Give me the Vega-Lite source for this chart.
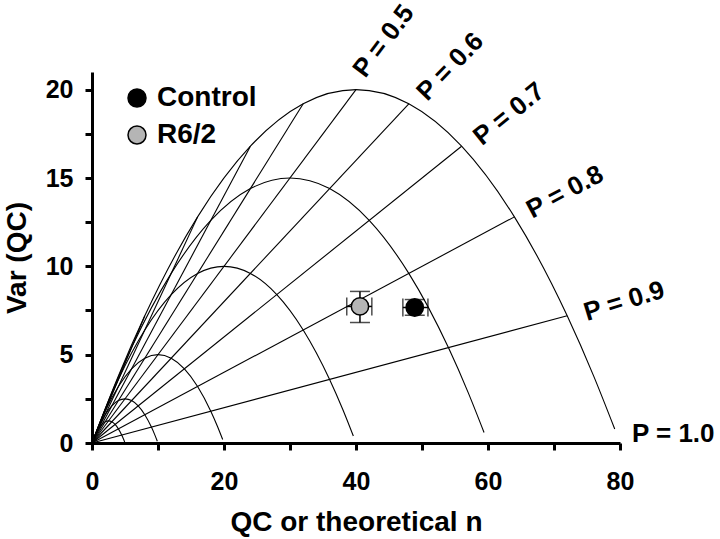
{
  "$schema": "https://vega.github.io/schema/vega-lite/v6.json",
  "autosize": {"type": "none"},
  "width": 528,
  "height": 371,
  "padding": {"left": 92, "top": 72, "right": 100, "bottom": 96},
  "background": "white",
  "config": {
    "view": {"stroke": null},
    "font": "Liberation Sans",
    "axis": {
      "grid": false,
      "domainColor": "black",
      "domainWidth": 3,
      "tickColor": "black",
      "tickWidth": 3,
      "tickSize": 7,
      "labelFont": "Liberation Sans",
      "labelFontWeight": "bold",
      "labelFontSize": 25,
      "labelColor": "black",
      "titleFont": "Liberation Sans",
      "titleFontWeight": "bold",
      "titleFontSize": 28,
      "titleColor": "black"
    }
  },
  "datasets": {
    "curves": [
      {"n":80,"P":0,"qc":0,"var":0},{"n":80,"P":0.05,"qc":4,"var":3.8},{"n":80,"P":0.1,"qc":8,"var":7.2},{"n":80,"P":0.2,"qc":16,"var":12.8},{"n":80,"P":0.3,"qc":24,"var":16.8},{"n":80,"P":0.4,"qc":32,"var":19.2},{"n":80,"P":0.5,"qc":40,"var":20},{"n":80,"P":0.6,"qc":48,"var":19.2},{"n":80,"P":0.7,"qc":56,"var":16.8},{"n":80,"P":0.8,"qc":64,"var":12.8},{"n":80,"P":0.9,"qc":72,"var":7.2},{"n":80,"P":0.95,"qc":76,"var":3.8},{"n":80,"P":0.99,"qc":79.2,"var":0.792},
      {"n":60,"P":0,"qc":0,"var":0},{"n":60,"P":0.05,"qc":3,"var":2.85},{"n":60,"P":0.1,"qc":6,"var":5.4},{"n":60,"P":0.2,"qc":12,"var":9.6},{"n":60,"P":0.3,"qc":18,"var":12.6},{"n":60,"P":0.4,"qc":24,"var":14.4},{"n":60,"P":0.5,"qc":30,"var":15},{"n":60,"P":0.6,"qc":36,"var":14.4},{"n":60,"P":0.7,"qc":42,"var":12.6},{"n":60,"P":0.8,"qc":48,"var":9.6},{"n":60,"P":0.9,"qc":54,"var":5.4},{"n":60,"P":0.95,"qc":57,"var":2.85},{"n":60,"P":0.99,"qc":59.4,"var":0.594},
      {"n":40,"P":0,"qc":0,"var":0},{"n":40,"P":0.05,"qc":2,"var":1.9},{"n":40,"P":0.1,"qc":4,"var":3.6},{"n":40,"P":0.2,"qc":8,"var":6.4},{"n":40,"P":0.3,"qc":12,"var":8.4},{"n":40,"P":0.4,"qc":16,"var":9.6},{"n":40,"P":0.5,"qc":20,"var":10},{"n":40,"P":0.6,"qc":24,"var":9.6},{"n":40,"P":0.7,"qc":28,"var":8.4},{"n":40,"P":0.8,"qc":32,"var":6.4},{"n":40,"P":0.9,"qc":36,"var":3.6},{"n":40,"P":0.95,"qc":38,"var":1.9},{"n":40,"P":0.99,"qc":39.6,"var":0.396},
      {"n":20,"P":0,"qc":0,"var":0},{"n":20,"P":0.05,"qc":1,"var":0.95},{"n":20,"P":0.1,"qc":2,"var":1.8},{"n":20,"P":0.2,"qc":4,"var":3.2},{"n":20,"P":0.3,"qc":6,"var":4.2},{"n":20,"P":0.4,"qc":8,"var":4.8},{"n":20,"P":0.5,"qc":10,"var":5},{"n":20,"P":0.6,"qc":12,"var":4.8},{"n":20,"P":0.7,"qc":14,"var":4.2},{"n":20,"P":0.8,"qc":16,"var":3.2},{"n":20,"P":0.9,"qc":18,"var":1.8},{"n":20,"P":0.95,"qc":19,"var":0.95},{"n":20,"P":0.99,"qc":19.8,"var":0.198},
      {"n":10,"P":0,"qc":0,"var":0},{"n":10,"P":0.05,"qc":0.5,"var":0.475},{"n":10,"P":0.1,"qc":1,"var":0.9},{"n":10,"P":0.2,"qc":2,"var":1.6},{"n":10,"P":0.3,"qc":3,"var":2.1},{"n":10,"P":0.4,"qc":4,"var":2.4},{"n":10,"P":0.5,"qc":5,"var":2.5},{"n":10,"P":0.6,"qc":6,"var":2.4},{"n":10,"P":0.7,"qc":7,"var":2.1},{"n":10,"P":0.8,"qc":8,"var":1.6},{"n":10,"P":0.9,"qc":9,"var":0.9},{"n":10,"P":0.95,"qc":9.5,"var":0.475},{"n":10,"P":0.99,"qc":9.9,"var":0.099},
      {"n":5,"P":0,"qc":0,"var":0},{"n":5,"P":0.05,"qc":0.25,"var":0.2375},{"n":5,"P":0.1,"qc":0.5,"var":0.45},{"n":5,"P":0.2,"qc":1,"var":0.8},{"n":5,"P":0.3,"qc":1.5,"var":1.05},{"n":5,"P":0.4,"qc":2,"var":1.2},{"n":5,"P":0.5,"qc":2.5,"var":1.25},{"n":5,"P":0.6,"qc":3,"var":1.2},{"n":5,"P":0.7,"qc":3.5,"var":1.05},{"n":5,"P":0.8,"qc":4,"var":0.8},{"n":5,"P":0.9,"qc":4.5,"var":0.45},{"n":5,"P":0.95,"qc":4.75,"var":0.2375},{"n":5,"P":0.99,"qc":4.95,"var":0.0495}
    ],
    "radials": [
      {"P":0.1,"qc0":0,"v0":0,"qc1":8,"v1":7.2},
      {"P":0.2,"qc0":0,"v0":0,"qc1":16,"v1":12.8},
      {"P":0.3,"qc0":0,"v0":0,"qc1":24,"v1":16.8},
      {"P":0.4,"qc0":0,"v0":0,"qc1":32,"v1":19.2},
      {"P":0.5,"qc0":0,"v0":0,"qc1":40,"v1":20},
      {"P":0.6,"qc0":0,"v0":0,"qc1":48,"v1":19.2},
      {"P":0.7,"qc0":0,"v0":0,"qc1":56,"v1":16.8},
      {"P":0.8,"qc0":0,"v0":0,"qc1":64,"v1":12.8},
      {"P":0.9,"qc0":0,"v0":0,"qc1":72,"v1":7.2}
    ],
    "labels": [
      {"P":0.5,"qc":41.4,"var":20.6,"label":"P = 0.5"},
      {"P":0.6,"qc":50.8,"var":19.3,"label":"P = 0.6"},
      {"P":0.7,"qc":59.1,"var":16.8,"label":"P = 0.7"},
      {"P":0.8,"qc":66.7,"var":12.7,"label":"P = 0.8"},
      {"P":0.9,"qc":75.0,"var":6.9,"label":"P = 0.9"},
      {"P":1.0,"qc":81.8,"var":0.06,"label":"P = 1.0"}
    ],
    "points": [
      {"group":"Control","qc":48.9,"var":7.67,"qc_lo":47.1,"qc_hi":50.9,"var_lo":7.23,"var_hi":8.12},
      {"group":"R6/2","qc":40.6,"var":7.73,"qc_lo":38.6,"qc_hi":42.4,"var_lo":6.82,"var_hi":8.58}
    ]
  },
  "layer": [
    {
      "data": {"name": "curves"},
      "mark": {"type": "line", "color": "black", "strokeWidth": 1.1, "interpolate": "monotone"},
      "encoding": {
        "x": {"field": "qc", "type": "quantitative", "scale": {"domain": [0, 80], "nice": false, "zero": false},
              "axis": {"values": [0,10,20,30,40,50,60,70,80], "labelExpr": "datum.value % 20 === 0 ? datum.label : ''", "labelPadding": 19, "titlePadding": 14, "title": "QC or theoretical n", "labelFlush": false}},
        "y": {"field": "var", "type": "quantitative", "scale": {"domain": [0, 21], "nice": false, "zero": false},
              "axis": {"values": [0,2.5,5,7.5,10,12.5,15,17.5,20], "labelExpr": "datum.value % 5 === 0 ? datum.label : ''", "labelPadding": 12, "titlePadding": 14, "title": "Var (QC)", "labelFlush": false}},
        "detail": {"field": "n", "type": "nominal"},
        "order": {"field": "P", "type": "quantitative"}
      }
    },
    {
      "data": {"name": "radials"},
      "mark": {"type": "rule", "color": "black", "strokeWidth": 1.1},
      "encoding": {
        "x": {"field": "qc0", "type": "quantitative"},
        "y": {"field": "v0", "type": "quantitative"},
        "x2": {"field": "qc1"},
        "y2": {"field": "v1"}
      }
    },
    {
      "data": {"name": "labels"},
      "mark": {"type": "text", "align": "left", "baseline": "alphabetic", "fontSize": 26, "fontWeight": "bold", "font": "Liberation Sans", "color": "black"},
      "encoding": {
        "x": {"field": "qc", "type": "quantitative"},
        "y": {"field": "var", "type": "quantitative"},
        "text": {"field": "label"},
        "angle": {"field": "P", "type": "quantitative", "scale": {"domain": [0.5,0.6,0.7,0.8,0.9,1.0], "range": [307,314,321,332,343,360]}, "legend": null}
      }
    },
    {
      "data": {"name": "points"},
      "mark": {"type": "rule", "color": "black", "strokeWidth": 1.5},
      "encoding": {
        "x": {"field": "qc_lo", "type": "quantitative"},
        "x2": {"field": "qc_hi"},
        "y": {"field": "var", "type": "quantitative"}
      }
    },
    {
      "data": {"name": "points"},
      "mark": {"type": "rule", "color": "black", "strokeWidth": 1.5},
      "encoding": {
        "x": {"field": "qc", "type": "quantitative"},
        "y": {"field": "var_lo", "type": "quantitative"},
        "y2": {"field": "var_hi"}
      }
    },
    {
      "data": {"name": "points"},
      "mark": {"type": "tick", "orient": "vertical", "color": "black", "size": 18, "thickness": 1.5},
      "encoding": {
        "x": {"field": "qc_lo", "type": "quantitative"},
        "y": {"field": "var", "type": "quantitative"}
      }
    },
    {
      "data": {"name": "points"},
      "mark": {"type": "tick", "orient": "vertical", "color": "black", "size": 18, "thickness": 1.5},
      "encoding": {
        "x": {"field": "qc_hi", "type": "quantitative"},
        "y": {"field": "var", "type": "quantitative"}
      }
    },
    {
      "data": {"name": "points"},
      "mark": {"type": "tick", "orient": "horizontal", "color": "black", "size": 20, "thickness": 1.5},
      "encoding": {
        "x": {"field": "qc", "type": "quantitative"},
        "y": {"field": "var_lo", "type": "quantitative"}
      }
    },
    {
      "data": {"name": "points"},
      "mark": {"type": "tick", "orient": "horizontal", "color": "black", "size": 20, "thickness": 1.5},
      "encoding": {
        "x": {"field": "qc", "type": "quantitative"},
        "y": {"field": "var_hi", "type": "quantitative"}
      }
    },
    {
      "data": {"name": "points"},
      "mark": {"type": "point", "shape": "circle", "filled": true, "size": 300, "stroke": "black", "strokeWidth": 1.5, "opacity": 1},
      "encoding": {
        "x": {"field": "qc", "type": "quantitative"},
        "y": {"field": "var", "type": "quantitative"},
        "fill": {"field": "group", "type": "nominal",
                  "scale": {"domain": ["Control", "R6/2"], "range": ["#000000", "#b5b5b5"]},
                  "legend": {"title": null, "orient": "none", "legendX": 31, "legendY": 12, "padding": 0,
                             "labelFontSize": 28, "labelFont": "Liberation Sans", "labelFontWeight": "bold", "labelColor": "black",
                             "symbolSize": 324, "symbolType": "circle", "symbolStrokeColor": "black", "symbolStrokeWidth": 1.5,
                             "labelOffset": 6, "rowPadding": 9}}
      }
    }
  ]
}
